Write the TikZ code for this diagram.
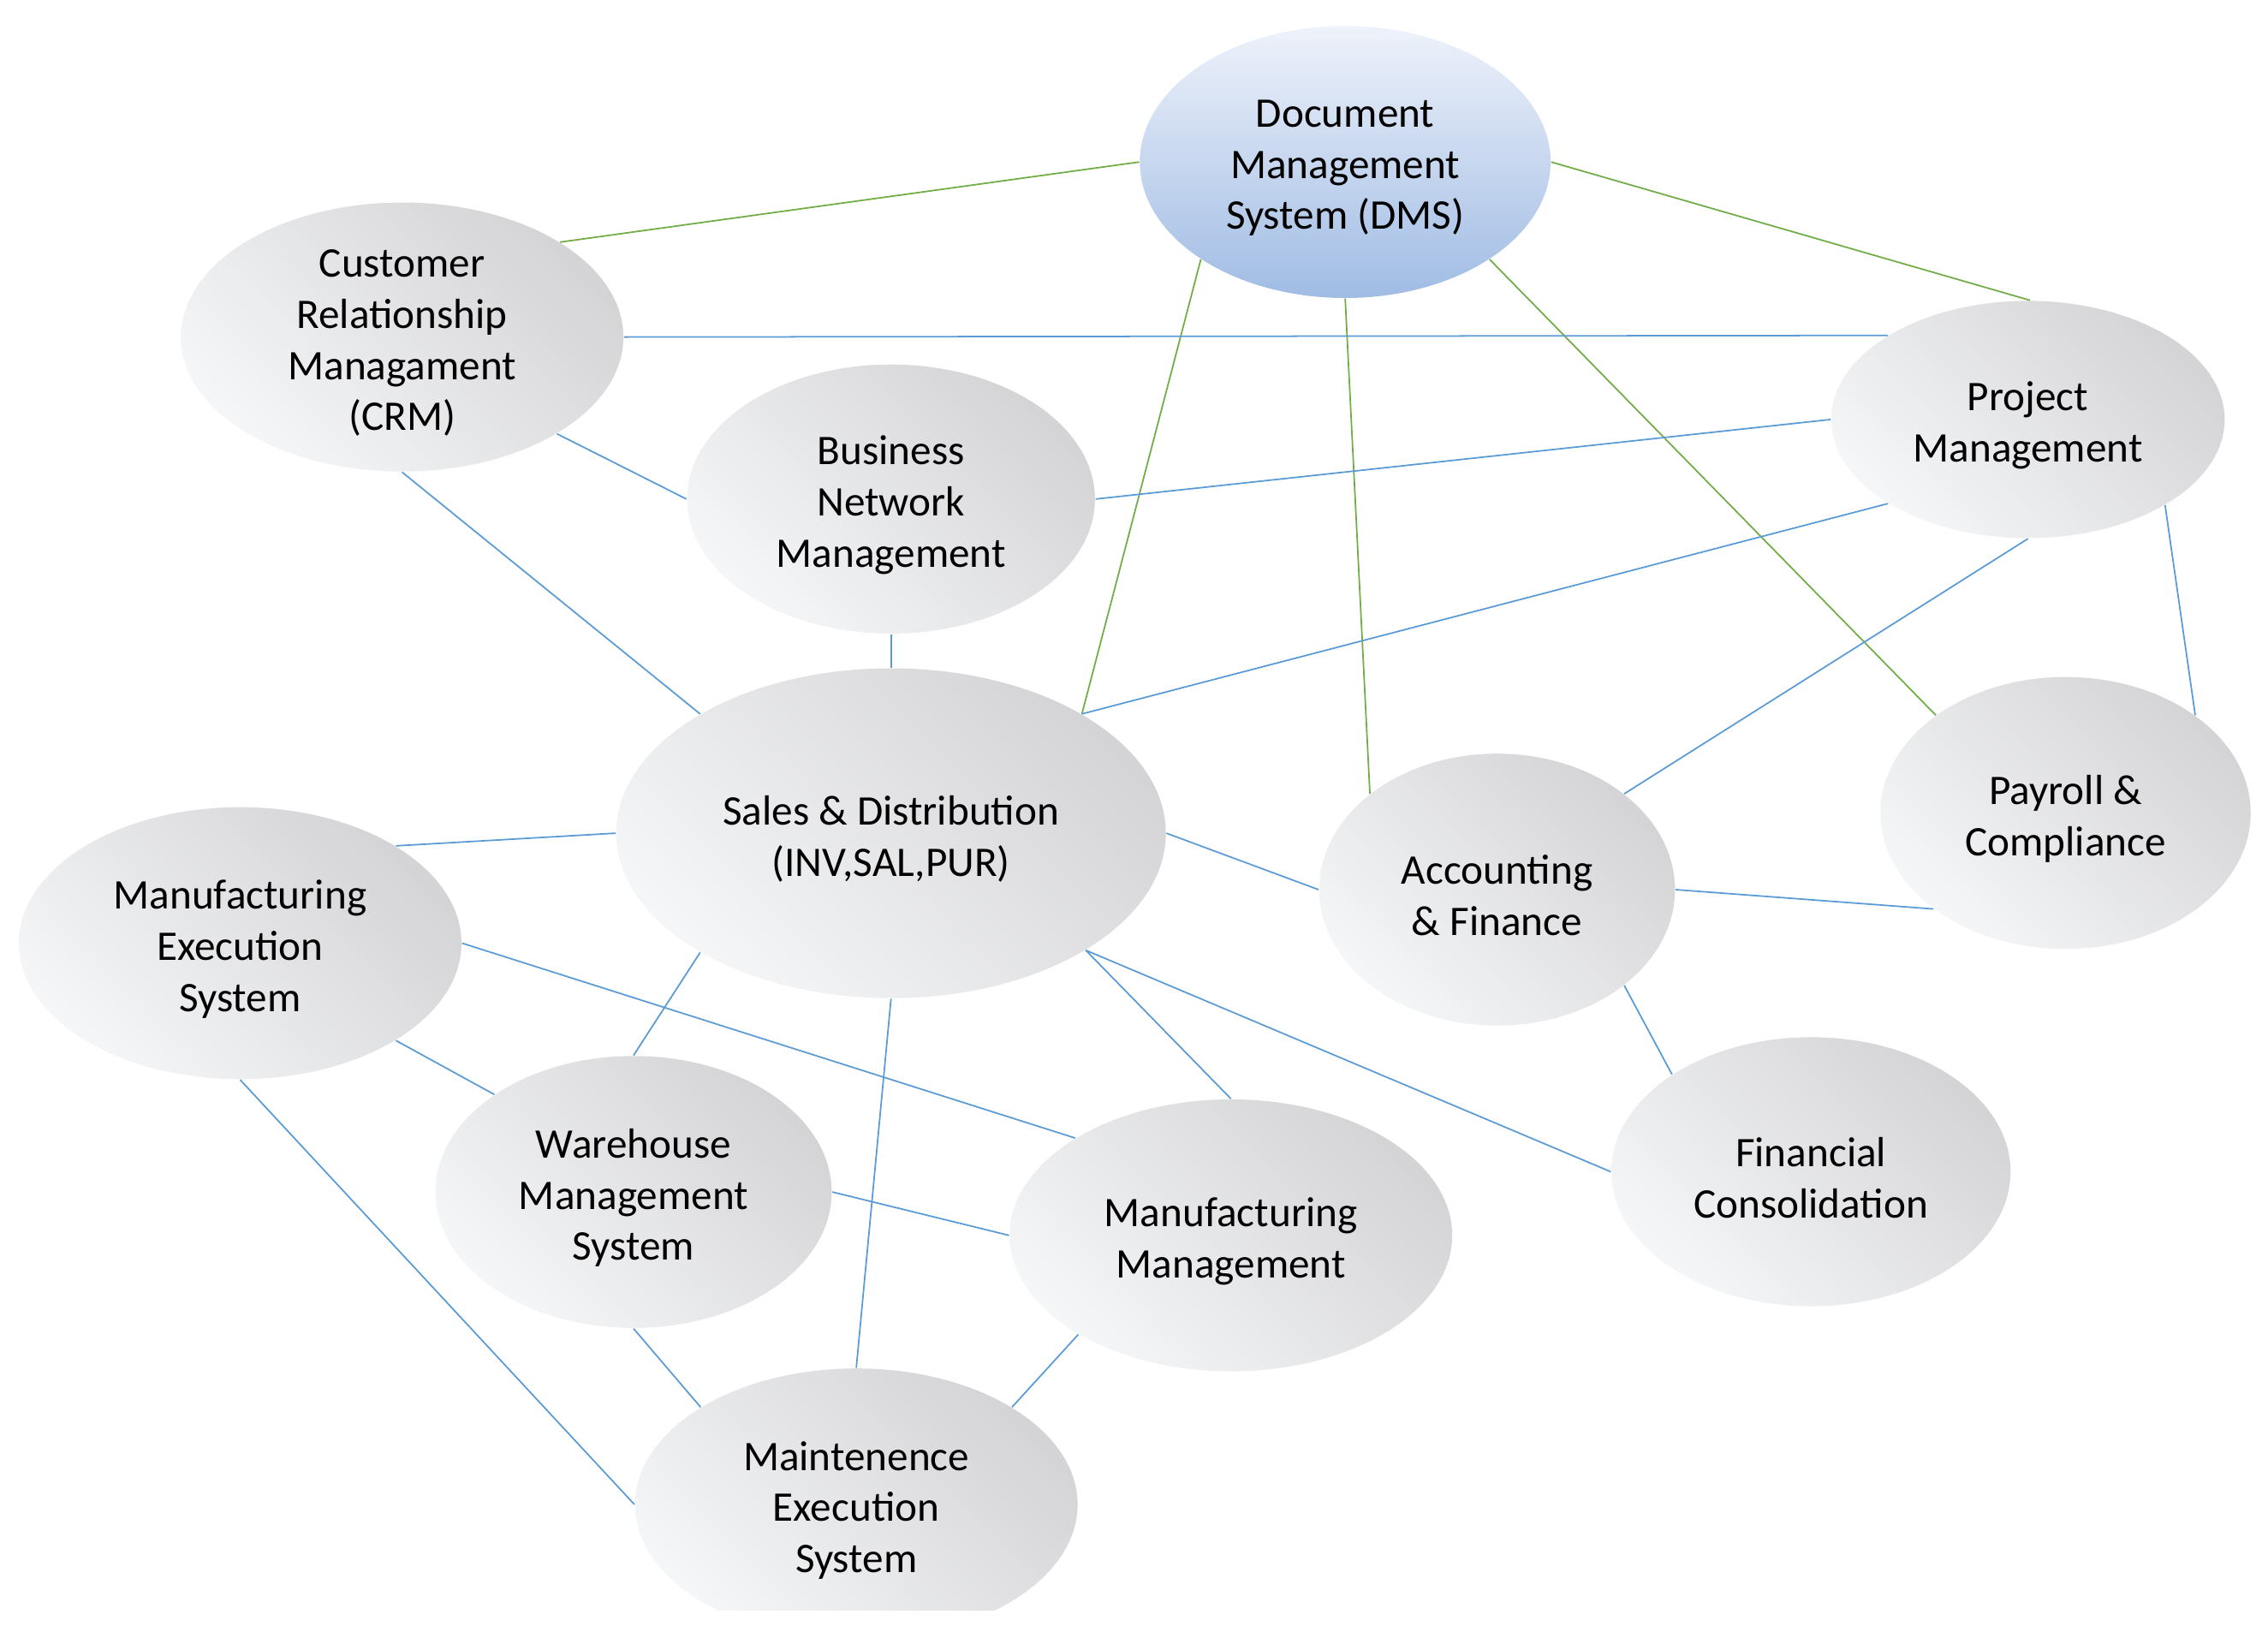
\documentclass[tikz,border=0pt]{standalone}
\usepackage{fontspec}
\setmainfont{Carlito}
\usetikzlibrary{shapes.geometric}

\definecolor{dmsgreen}{RGB}{112,173,71}
\definecolor{modblue}{RGB}{91,155,213}
\definecolor{bubblelight}{RGB}{245,246,247}
\definecolor{bubbledark}{RGB}{212,212,214}
\definecolor{dmstop}{RGB}{238,242,250}
\definecolor{dmsbottom}{RGB}{160,188,228}

\tikzset{
	bubble/.style 2 args={ellipse, minimum width={#1*0.016894cm}, minimum height={#2*0.016894cm}, inner sep=0pt,
		top color=bubbledark, bottom color=bubblelight, shading angle=-45},
	dmsbubble/.style={top color=dmstop, bottom color=dmsbottom},
	txt/.style={align=center, yshift=-0.07cm, font=\fontsize{14}{17}\selectfont},
	greenlink/.style={draw=dmsgreen, line width=0.5pt},
	bluelink/.style={draw=modblue, line width=0.5pt}
}

\begin{document}
\begin{tikzpicture}[x=0.016894cm, y=-0.016894cm]
	\useasboundingbox (0,0) rectangle (1568,1132);
	\clip (0,0) rectangle (1568,1113);

	% modules
	\node[bubble={284}{188}, dmsbubble, label={[txt]center:{Document\\Management\\System (DMS)}}] (dms) at (930,112) {};
	\node[bubble={306}{186}, label={[txt]center:{Customer\\Relationship\\Managament\\(CRM)}}] (crm) at (278,233) {};
	\node[bubble={282}{186}, label={[txt]center:{Business\\Network\\Management}}] (bnm) at (616,345) {};
	\node[bubble={272}{164}, label={[txt]center:{Project\\Management}}] (pm) at (1402,290) {};
	\node[bubble={380}{228}, label={[txt]center:{Sales \& Distribution\\(INV,SAL,PUR)}}] (sd) at (616,576) {};
	\node[bubble={306}{188}, label={[txt]center:{Manufacturing\\Execution\\System}}] (mes) at (166,652) {};
	\node[bubble={246}{188}, label={[txt]center:{Accounting\\\& Finance}}] (af) at (1035,615) {};
	\node[bubble={256}{188}, label={[txt]center:{Payroll \&\\Compliance}}] (pc) at (1428,562) {};
	\node[bubble={274}{188}, label={[txt]center:{Warehouse\\Management\\System}}] (wms) at (438,824) {};
	\node[bubble={306}{188}, label={[txt]center:{Manufacturing\\Management}}] (mm) at (851,854) {};
	\node[bubble={276}{186}, label={[txt]center:{Financial\\Consolidation}}] (fc) at (1252,810) {};
	\node[bubble={306}{188}, label={[txt]center:{Maintenence\\Execution\\System}}] (mxs) at (592,1040) {};

	% links to the DMS
	\draw[greenlink] (dms.180) -- (crm.31);
	\draw[greenlink] (dms.0) -- (pm.89);
	\draw[greenlink] (dms.214) -- (sd.32);
	\draw[greenlink] (dms.270) -- (af.143);
	\draw[greenlink] (dms.326) -- (pc.143);

	% links between modules
	\draw[bluelink] (crm.0) -- (pm.149);
	\draw[bluelink] (crm.328) -- (bnm.180);
	\draw[bluelink] (crm.270) -- (sd.148);
	\draw[bluelink] (bnm.0) -- (pm.180);
	\draw[bluelink] (bnm.270) -- (sd.90);
	\draw[bluelink] (sd.32) -- (pm.211);
	\draw[bluelink] (pm.270) -- (af.37);
	\draw[bluelink] (pm.328) -- (pc.37);
	\draw[bluelink] (sd.180) -- (mes.32);
	\draw[bluelink] (sd.0) -- (af.180);
	\draw[bluelink] (af.0) -- (pc.216);
	\draw[bluelink] (af.323) -- (fc.145);
	\draw[bluelink] (sd.329) -- (fc.180);
	\draw[bluelink] (sd.329) -- (mm.90);
	\draw[bluelink] (sd.212) -- (wms.90);
	\draw[bluelink] (sd.270) -- (mxs.90);
	\draw[bluelink] (mes.0) -- (mm.148);
	\draw[bluelink] (mes.328) -- (wms.145);
	\draw[bluelink] (mes.270) -- (mxs.180);
	\draw[bluelink] (wms.0) -- (mm.180);
	\draw[bluelink] (wms.270) -- (mxs.148);
	\draw[bluelink] (mm.213) -- (mxs.32);
\end{tikzpicture}
\end{document}
